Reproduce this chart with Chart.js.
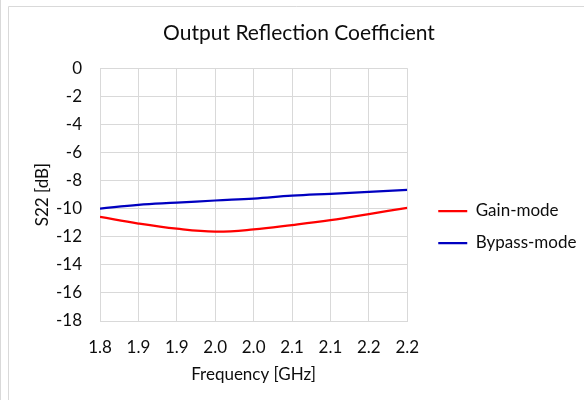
<!DOCTYPE html>
<html>
<head>
<meta charset="utf-8">
<script src="https://cdn.jsdelivr.net/npm/chart.js@4"></script>
<style>
  html, body { margin: 0; padding: 0; background: #ffffff; }
  #wrap { position: relative; width: 584px; height: 400px; }
</style>
</head>
<body>
<div id="wrap"><canvas id="c" width="584" height="400"></canvas></div>
<script>
const chartTitle = 'Output Reflection Coefficient';
const xTitle = 'Frequency [GHz]';
const yTitle = 'S22 [dB]';
const frequencies = [1.80, 1.85, 1.90, 1.95, 2.00, 2.05, 2.10, 2.15, 2.20];
const xTickLabels = ['1.8', '1.9', '1.9', '2.0', '2.0', '2.1', '2.1', '2.2', '2.2'];
const gainMode = [-10.58, -11.06, -11.43, -11.63, -11.48, -11.17, -10.82, -10.39, -9.94];
const bypassMode = [-10.00, -9.73, -9.58, -9.42, -9.28, -9.08, -8.94, -8.80, -8.66];
const seriesNames = ['Gain-mode', 'Bypass-mode'];
const yMin = -18, yMax = 0, yStep = 2;

const FONT = 'Lato, Calibri, "Liberation Sans", sans-serif';
const TEXT = '#0d0d0d';
const GRID = '#d9d9d9';

const framePlugin = {
  id: 'frame',
  beforeDraw(chart) {
    const ctx = chart.ctx;
    ctx.save();
    ctx.fillStyle = '#ffffff';
    ctx.fillRect(0, 0, chart.width, chart.height);
    ctx.strokeStyle = GRID;
    ctx.lineWidth = 1;
    ctx.beginPath();
    ctx.moveTo(0.5, 0); ctx.lineTo(0.5, chart.height);
    ctx.moveTo(8.5, chart.height); ctx.lineTo(8.5, 6.5); ctx.lineTo(chart.width, 6.5);
    ctx.stroke();
    ctx.restore();
  },
  afterLayout(chart) {
    if (chart.titleBlock) {
      chart.titleBlock.left = 14;
      chart.titleBlock.right = 584;
    }
    const L = chart.legend;
    if (L) {
      L.left = chart.chartArea.right + 16;
      L.right = chart.width;
      L.width = L.right - L.left;
      L.top += 27;
      L.bottom += 27;
    }
  }
};

const toPoints = (ys) => frequencies.map((x, i) => ({ x, y: ys[i] }));

new Chart(document.getElementById('c'), {
  type: 'line',
  data: {
    datasets: [
      { label: seriesNames[0], data: toPoints(gainMode), borderColor: '#ff0000', backgroundColor: '#ff0000',
        borderWidth: 2.25, pointRadius: 0, tension: 0.4, fill: false },
      { label: seriesNames[1], data: toPoints(bypassMode), borderColor: '#0000c0', backgroundColor: '#0000c0',
        borderWidth: 2.25, pointRadius: 0, tension: 0.4, fill: false }
    ]
  },
  options: {
    responsive: false,
    animation: false,
    devicePixelRatio: 1,
    layout: { padding: { left: 0, right: 41, top: 0, bottom: 0 } },
    plugins: {
      title: {
        display: true, text: chartTitle, color: TEXT,
        font: { family: FONT, size: 21, weight: 'normal' },
        padding: { top: 21, bottom: 22 }
      },
      legend: {
        display: true, position: 'right', align: 'center',
        labels: {
          usePointStyle: true, pointStyle: 'line', pointStyleWidth: 29,
          padding: 15, color: TEXT,
          font: { family: FONT, size: 17 }
        }
      },
      tooltip: { enabled: false }
    },
    scales: {
      x: {
        type: 'linear', min: frequencies[0], max: frequencies[frequencies.length - 1],
        afterBuildTicks: (s) => { s.ticks = frequencies.map(v => ({ value: v })); },
        afterFit: (s) => { s.height = 79; },
        grid: { color: GRID, drawTicks: false },
        border: { color: GRID },
        ticks: {
          padding: 16, color: TEXT, maxRotation: 0, autoSkip: false,
          font: { family: FONT, size: 17 },
          callback: (v, i) => xTickLabels[i]
        },
        title: {
          display: true, text: xTitle, color: TEXT,
          font: { family: FONT, size: 17 },
          padding: { top: 4, bottom: 15 }
        }
      },
      y: {
        min: yMin, max: yMax,
        afterFit: (s) => { s.width = 100; },
        grid: { color: GRID, drawTicks: false },
        border: { color: GRID },
        ticks: {
          stepSize: yStep, padding: 18, color: TEXT,
          font: { family: FONT, size: 17 }
        },
        title: {
          display: true, text: yTitle, color: TEXT,
          font: { family: FONT, size: 17 },
          padding: { top: 32, bottom: 4 }
        }
      }
    }
  },
  plugins: [framePlugin]
});
</script>
</body>
</html>
